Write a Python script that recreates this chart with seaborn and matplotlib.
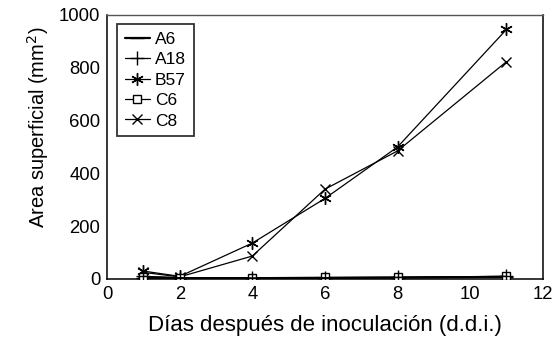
import matplotlib
matplotlib.use("Agg")
import matplotlib.pyplot as plt
import seaborn as sns
import pandas as pd

# Days after inoculation and lesion surface area per isolate
days = [1, 2, 4, 6, 8, 11]
a6 = [5, 3, 3, 4, 5, 8]
a18 = [10, 5, 4, 5, 6, 10]
b57 = [30, 10, 136, 305, 500, 945]
c6 = [8, 5, 5, 6, 7, 10]
c8 = [25, 8, 87, 340, 485, 823]

series_names = ["A6", "A18", "B57", "C6", "C8"]
series_values = [a6, a18, b57, c6, c8]

x_ticks = [0, 2, 4, 6, 8, 10, 12]
y_ticks = [0, 200, 400, 600, 800, 1000]

rows = []
for name, vals in zip(series_names, series_values):
    for d, v in zip(days, vals):
        rows.append({"dias": d, "area": v, "aislado": name})
df = pd.DataFrame(rows)

sns.set_theme(style="white")
plt.rcParams["font.family"] = ["Liberation Sans", "DejaVu Sans"]
plt.rcParams["text.color"] = "black"
plt.rcParams["axes.labelcolor"] = "black"
plt.rcParams["xtick.color"] = "black"
plt.rcParams["ytick.color"] = "black"

# asterisk marker: 6-armed star
asterisk = (6, 2, 0)
marker_map = {"A6": "_", "A18": "+", "B57": asterisk, "C6": "s", "C8": "x"}
size_map = {"A6": 10, "A18": 10, "B57": 9, "C6": 6, "C8": 7}
# the plus marks sit on top of the open squares
zorder_map = {"A6": 3, "A18": 5, "B57": 3, "C6": 4, "C8": 3}

fig = plt.figure(figsize=(5.55, 3.39), dpi=100)
ax = fig.add_axes([0.193, 0.177, 0.785, 0.779])

for name in series_names:
    sub = df[df["aislado"] == name]
    sns.lineplot(
        data=sub, x="dias", y="area", ax=ax, color="black",
        linewidth=1.6 if name == "A6" else 0.9,
        marker=marker_map[name], markersize=size_map[name],
        markerfacecolor="white" if name == "C6" else "black",
        markeredgecolor="black", markeredgewidth=1.0,
        label=name, estimator=None, zorder=zorder_map[name],
    )

ax.set_xlim(0, 12)
ax.set_ylim(0, 1000)
ax.set_xticks(x_ticks)
ax.set_yticks(y_ticks)
ax.tick_params(axis="both", labelsize=13.3, length=0, pad=5, colors="black")
ax.set_xlabel("Días después de inoculación (d.d.i.)", fontsize=16, labelpad=9)
ax.set_ylabel("Area superficial (mm$^2$)", fontsize=14.5)
ax.yaxis.set_label_coords(-0.128, 0.573)

for side in ["left", "bottom", "right"]:
    ax.spines[side].set_color("black")
    ax.spines[side].set_linewidth(1.1)
ax.spines["top"].set_color("#555555")
ax.spines["top"].set_linewidth(1.0)

leg = ax.legend(
    loc="upper left", bbox_to_anchor=(0.022, 0.965), frameon=True,
    fancybox=False, edgecolor="black", fontsize=12.5, handlelength=1.45,
    handletextpad=0.3, labelspacing=0.3, borderpad=0.45, borderaxespad=0,
)
leg.get_frame().set_linewidth(1.3)
for t in leg.get_texts():
    t.set_color("black")

fig.savefig("out.png", dpi=100, facecolor="white")
